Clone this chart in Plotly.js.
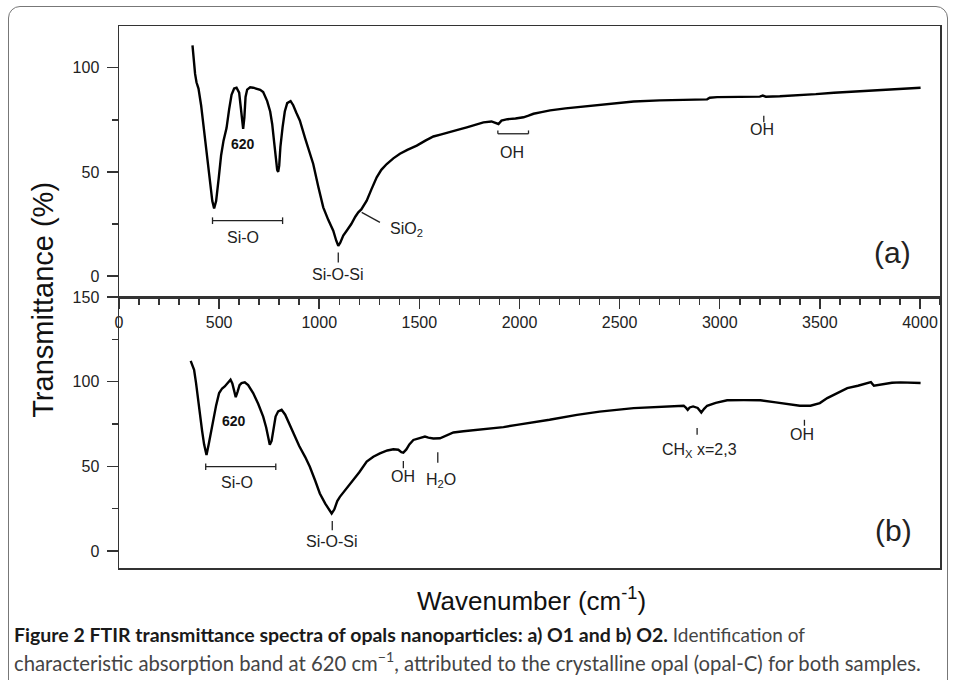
<!DOCTYPE html>
<html>
<head>
<meta charset="utf-8">
<script src="https://cdn.plot.ly/plotly-3.0.1.min.js"></script>
<style>
  html, body { margin: 0; padding: 0; background: #fff; overflow: hidden; }
  #wrap { position: relative; width: 956px; height: 680px; }
  #chart { position: absolute; left: 0; top: 0; width: 956px; height: 680px; }
  #frame { position: absolute; left: 8px; top: 6px; width: 940px; height: 700px;
           border: 1.5px solid #777; border-radius: 12px; pointer-events: none; box-sizing: border-box; }
</style>
</head>
<body>
<div id="wrap">
  <div id="chart"></div>
  <div id="frame"></div>
</div>
<script>
// ---- Data: sample O1 (panel a) ----
const wnA = [367,372,380,387,397,410,425,440,455,466,475,485,498,510,522,537,550,562,575,587,600,608,615,620,626,632,640,655,670,690,705,720,740,755,765,775,783,790,795,800,806,812,817,828,840,857,870,885,903,930,950,970,995,1020,1045,1070,1085,1095,1105,1120,1137,1160,1180,1195,1210,1237,1260,1287,1310,1337,1370,1403,1440,1487,1530,1570,1610,1653,1700,1737,1780,1820,1860,1880,1895,1910,1940,1980,2020,2045,2070,2110,2153,2230,2320,2450,2570,2700,2850,2937,2950,2987,3100,3200,3215,3230,3300,3403,3480,3570,3700,3820,3920,4003];
const tA  = [110.7,105,97,93,90,82,70,56,43,36,32.5,36,47,58,65,71,80,87,90,90.4,88,82,74,70.7,76,86,89.5,90.6,90.4,90,89.4,88.3,84,79,73,64,55,51,50,53,62,68,71.5,79,83,84,82,78.5,74.7,66,60,53.8,43,33,27,21.8,17,14.6,16,19.5,21.8,25,28.5,30.6,32,36.2,41.5,47.4,51,53.8,56.5,58.7,60.6,62.6,65,67,68,69,70.4,71.4,72.6,73.8,74.2,73.6,73,74.6,75.3,75.6,76.2,77,77.9,78.7,79.5,80.5,81.4,82.6,83.8,84.3,84.6,84.8,85.6,85.9,86,86.1,86.6,86.1,86.3,86.7,87.3,88,88.8,89.6,90,90.4];

// ---- Data: sample O2 (panel b) ----
const wnB = [358,365,375,385,395,403,415,425,437,448,460,470,485,500,515,528,545,557,566,575,583,592,602,612,628,645,670,695,720,735,745,753,762,772,782,795,812,830,850,870,900,930,953,980,1003,1030,1050,1062,1075,1090,1103,1130,1170,1200,1237,1270,1303,1340,1370,1395,1410,1420,1435,1450,1470,1500,1528,1545,1570,1603,1640,1670,1720,1770,1820,1870,1920,1987,2070,2150,2287,2400,2570,2700,2820,2832,2840,2850,2867,2890,2908,2922,2937,2980,3037,3120,3203,3280,3353,3400,3453,3500,3537,3580,3637,3690,3737,3755,3770,3810,3860,3903,3950,4003];
const tB  = [112.3,110.5,107,99,89,81.4,71,63,56.7,63,70.5,77.5,86,93.3,96,97.2,99.5,101.2,99,93.5,90.9,94,98,99.2,99.6,98,93.3,87,79.4,73,66.5,62.7,65,73,79.4,82.5,83.4,80.5,75,69.6,62,55.5,49.8,41.5,34,28,24,22.2,24.5,29.5,32,36,41.9,46.5,52.8,55.7,57.7,59.4,60.1,59.8,58.4,58.1,60,63,65.6,66.5,67.6,67,66.5,66.6,68.4,70,70.7,71.3,72,72.5,73.2,74.5,75.9,77.5,80.4,82.3,84.4,85.3,85.8,84.5,83.4,84.8,85.4,84.5,81.8,84,85.8,87.5,89,89.1,89,87.8,86.4,85.8,85.8,87.4,90.3,93,96.2,97.6,99.2,99.7,97.6,98.5,99.4,99.6,99.4,99.2];

// ---- Tick labels ----
const xTicks = [0,500,1000,1500,2000,2500,3000,3500,4000];
const yTicksA = [0,50,100];
const yTicksB = [0,50,100,150];

const lineCol = '#333';
const tickFont = {family: 'Liberation Sans, Arial, sans-serif', size: 16, color: '#222'};
const annFont = {family: 'Liberation Sans, Arial, sans-serif', size: 16, color: '#222'};

const traces = [
  {x: wnA, y: tA, xaxis: 'x', yaxis: 'y', mode: 'lines', line: {color: '#000', width: 2.4}, hoverinfo: 'skip'},
  {x: wnB, y: tB, xaxis: 'x2', yaxis: 'y2', mode: 'lines', line: {color: '#000', width: 2.4}, hoverinfo: 'skip'}
];

function ln(xr, yr, x0, y0, x1, y1) {
  return {type: 'line', xref: xr, yref: yr, x0: x0, y0: y0, x1: x1, y1: y1, line: {color: '#222', width: 1.3}};
}
const shapes = [
  // panel a
  ln('x','y', 467, 26.6, 817, 26.6), ln('x','y', 467, 25, 467, 28.2), ln('x','y', 817, 25, 817, 28.2),
  ln('x','y', 1095, 11.4, 1095, 6.6),
  ln('x','y', 1212, 30.6, 1303, 25.8),
  ln('x','y', 1892, 68.3, 2045, 68.3), ln('x','y', 1892, 68.3, 1892, 69.9), ln('x','y', 2045, 68.3, 2045, 69.9),
  ln('x','y', 3220, 77, 3220, 73.8),
  // panel b
  ln('x2','y2', 433, 49.8, 783, 49.8), ln('x2','y2', 433, 47.9, 433, 51.7), ln('x2','y2', 783, 47.9, 783, 51.7),
  ln('x2','y2', 1065, 17.8, 1065, 12.3),
  ln('x2','y2', 1420, 53.2, 1420, 48.9),
  ln('x2','y2', 1592, 58.3, 1592, 52.2),
  ln('x2','y2', 2887, 72.6, 2887, 68.6),
  ln('x2','y2', 3423, 77.5, 3423, 74)
];

function ann(xr, yr, x, y, text, extra) {
  return Object.assign({xref: xr, yref: yr, x: x, y: y, text: text, showarrow: false,
    xanchor: 'center', yanchor: 'middle', font: annFont}, extra || {});
}
const boldFont = {family: 'Liberation Sans, Arial, sans-serif', size: 14, color: '#111'};
const panelFont = {family: 'Liberation Sans, Arial, sans-serif', size: 30, color: '#222'};
const annotations = [
  ann('x','y', 620, 63.5, '<b>620</b>', {font: boldFont}),
  ann('x','y', 620, 18.6, 'Si-O'),
  ann('x','y', 1095, 1, 'Si-O-Si'),
  ann('x','y', 1345, 22.5, 'SiO<sub>2</sub>', {xanchor: 'left'}),
  ann('x','y', 1965, 59.4, 'OH'),
  ann('x','y', 3212, 70.2, 'OH'),
  ann('x','y', 3862, 11.3, '(a)', {font: panelFont}),
  ann('x2','y2', 575, 77, '<b>620</b>', {font: boldFont}),
  ann('x2','y2', 590, 40.3, 'Si-O'),
  ann('x2','y2', 1065, 5.8, 'Si-O-Si'),
  ann('x2','y2', 1418, 44.3, 'OH'),
  ann('x2','y2', 1609, 41.5, 'H<sub>2</sub>O'),
  ann('x2','y2', 2898, 59.5, 'CH<sub>X</sub> x=2,3'),
  ann('x2','y2', 3412, 68.6, 'OH'),
  ann('x2','y2', 3867, 12.3, '(b)', {font: panelFont}),
  // axis titles
  ann('paper','paper', -0.0925, 0.495, 'Transmittance (%)',
      {textangle: -90, font: {family: 'Liberation Sans, Arial, sans-serif', size: 29, color: '#111'}}),
  ann('paper','paper', 0.502, -0.059, 'Wavenumber (cm<sup>-1</sup>)',
      {font: {family: 'Liberation Sans, Arial, sans-serif', size: 26, color: '#111'}}),
  // caption
  ann('paper','paper', -0.1303, -0.1218,
      '<b><span style="font-size:19.5px;color:#1a1a1a">Figure 2 FTIR transmittance spectra of opals nanoparticles: a) O1 and b) O2.</span></b> Identification of',
      {xanchor: 'left', font: {family: 'Lato, Open Sans, sans-serif', size: 19, color: '#444'}}),
  ann('paper','paper', -0.1303, -0.1725,
      'characteristic absorption band at 620 cm<sup>−1</sup>, attributed to the crystalline opal (opal-C) for both samples.',
      {xanchor: 'left', font: {family: 'Lato, Open Sans, sans-serif', size: 20.3, color: '#444'}})
];

const axBase = {showgrid: false, zeroline: false, showline: true, linecolor: lineCol, linewidth: 1.5,
  mirror: true, tickcolor: lineCol, tickwidth: 1.5, tickfont: tickFont};

const layout = {
  width: 956, height: 680,
  margin: {l: 119, r: 16, t: 26, b: 112},
  paper_bgcolor: '#fff', plot_bgcolor: '#fff',
  showlegend: false,
  xaxis: Object.assign({}, axBase, {anchor: 'y', domain: [0, 1], range: [0, 4100],
    tickmode: 'array', tickvals: xTicks, ticktext: xTicks.map(String),
    ticks: 'outside', ticklen: 10, ticklabelstandoff: 0,
    minor: {dtick: 100, tick0: 0, ticks: 'outside', ticklen: 6, tickcolor: lineCol, tickwidth: 1.5}}),
  yaxis: Object.assign({}, axBase, {anchor: 'x', domain: [0.5, 1], range: [-10, 120],
    tickmode: 'array', tickvals: yTicksA, ticktext: yTicksA.map(String),
    ticks: 'outside', ticklen: 11, ticklabelstandoff: 4,
    minor: {dtick: 25, tick0: 0, ticks: 'outside', ticklen: 6, tickcolor: lineCol, tickwidth: 1.5}}),
  xaxis2: Object.assign({}, axBase, {anchor: 'y2', domain: [0, 1], range: [0, 4100],
    ticks: '', showticklabels: false}),
  yaxis2: Object.assign({}, axBase, {anchor: 'x2', domain: [0, 0.5], range: [-10, 150],
    tickmode: 'array', tickvals: yTicksB, ticktext: yTicksB.map(String),
    ticks: 'outside', ticklen: 11, ticklabelstandoff: 4,
    minor: {dtick: 25, tick0: 0, ticks: 'outside', ticklen: 6, tickcolor: lineCol, tickwidth: 1.5}}),
  shapes: shapes,
  annotations: annotations
};

Plotly.newPlot('chart', traces, layout, {displayModeBar: false, staticPlot: true});
</script>
</body>
</html>
